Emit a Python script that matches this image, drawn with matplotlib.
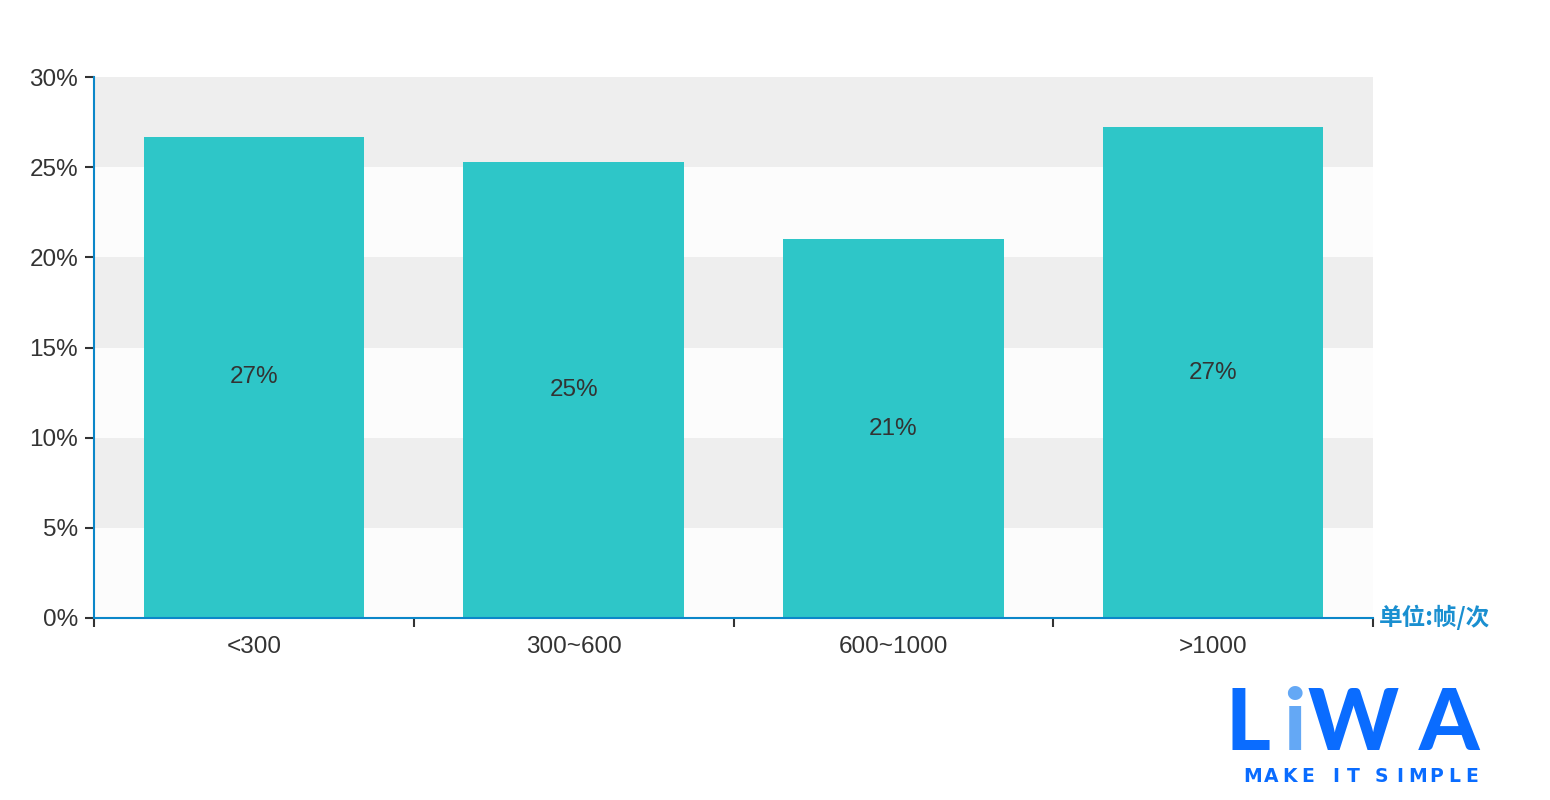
import matplotlib
matplotlib.use('Agg')
import matplotlib.pyplot as plt
import numpy as np

plt.rcParams['font.family'] = ['Liberation Sans', 'Noto Sans CJK SC', 'DejaVu Sans']

# data
categories = ['<300', '300~600', '600~1000', '>1000']
values = [26.7, 25.3, 21.0, 27.2]
labels = ['27%', '25%', '21%', '27%']
yticks = [0, 5, 10, 15, 20, 25, 30]

axis_blue = '#0b87c9'
bar_color = '#2ec6c8'
text_color = '#333333'
logo_blue = '#0a6cff'

fig = plt.figure(figsize=(15.5, 8), dpi=100)
ax = fig.add_axes([94 / 1550, 182 / 800, (1373 - 94) / 1550, (618 - 77) / 800])

# alternating background bands
for i in range(len(yticks) - 1):
    c = '#eeeeee' if i % 2 == 1 else '#fcfcfc'
    ax.axhspan(yticks[i], yticks[i + 1], color=c, zorder=0, lw=0)

x = np.arange(len(categories))
bars = ax.bar(x, values, width=0.69, color=bar_color, zorder=2)
for xi, v, lab in zip(x, values, labels):
    ax.text(xi, v / 2, lab, ha='center', va='center', fontsize=17.5,
            color=text_color, zorder=3)

ax.set_xlim(-0.5, len(categories) - 0.5)
ax.set_ylim(0, 30)
ax.set_yticks(yticks)
ax.set_yticklabels(['%d%%' % t for t in yticks], fontsize=17.5, color=text_color)
ax.set_xticks(x)
ax.set_xticklabels(categories, fontsize=17.5, color=text_color)
ax.set_xticks(np.arange(len(categories) + 1) - 0.5, minor=True)
ax.tick_params(axis='x', which='major', length=0, pad=13)
ax.tick_params(axis='x', which='minor', length=6.5, width=1.5, color=text_color)
ax.tick_params(axis='y', length=6.5, width=1.5, color=text_color, pad=5)

for s in ['top', 'right']:
    ax.spines[s].set_visible(False)
for s in ['left', 'bottom']:
    ax.spines[s].set_color(axis_blue)
    ax.spines[s].set_linewidth(1.5)
    ax.spines[s].set_zorder(4)

fig.text(1379 / 1550, 1 - 617 / 800, '单位:帧/次', fontsize=17, color='#1a8fd0',
         ha='left', va='center', fontweight='bold',
         family=['Noto Sans CJK SC', 'DejaVu Sans'])

# logo
logo_y = 1 - 726 / 800
for ch, px, col in [('L', 1226, logo_blue), ('i', 1283, '#64a8f5'),
                    ('W', 1308, logo_blue), ('A', 1419, logo_blue)]:
    fig.text(px / 1550, logo_y, ch, fontsize=62, color=col, ha='left',
             va='center', fontweight='black', family='Lato')
tag = 'MAKE IT SIMPLE'
w = [0.55 if ch == ' ' else 1.0 for ch in tag]
pos = np.cumsum(w) - np.array(w) / 2
pos = 1253 + (pos - pos[0]) * (1472 - 1253) / (pos[-1] - pos[0])
for ch, px in zip(tag, pos):
    if ch != ' ':
        fig.text(px / 1550, 1 - 776 / 800, ch, fontsize=13.5,
                 color=logo_blue, ha='center', va='center', fontweight='bold',
                 family='DejaVu Sans')

fig.savefig('out.png', dpi=100, facecolor='white')
